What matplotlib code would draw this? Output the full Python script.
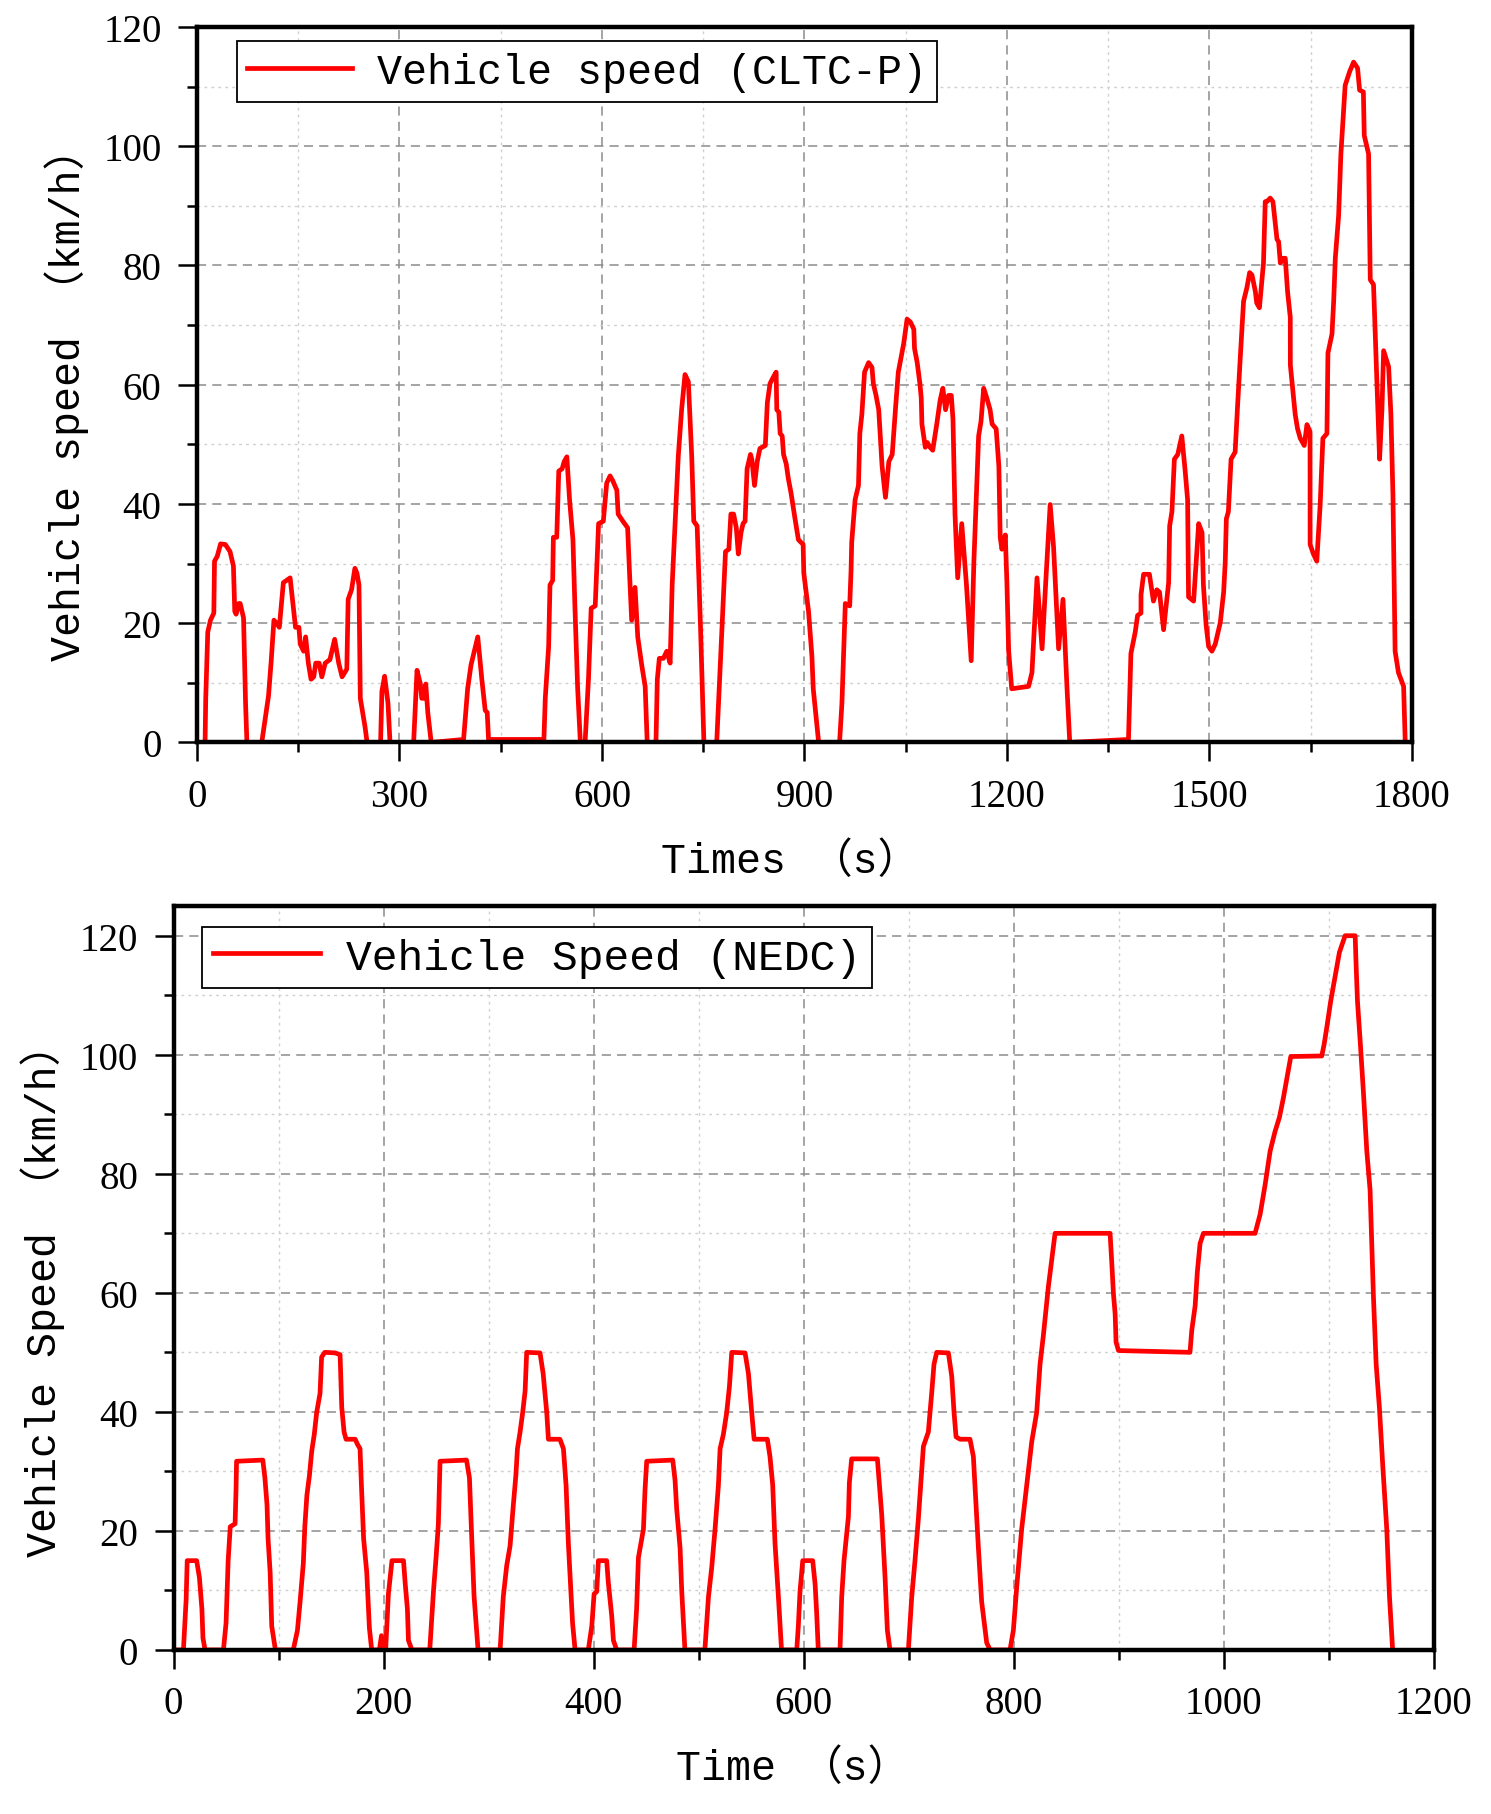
import matplotlib.pyplot as plt
from matplotlib.ticker import MultipleLocator

# CLTC-P speed trace (s, km/h)
cltc_t = [0, 12, 13, 16, 20, 25, 26, 30, 35, 42, 49, 54, 56, 58, 62, 64, 69, 72, 74,
          96, 106, 110, 114, 118, 122, 128, 133, 138, 146, 151, 153, 158, 161, 165, 169,
          173, 176, 181, 185, 190, 197, 204, 210, 215, 222, 224, 229, 234, 237, 240, 242,
          249, 252, 272, 274, 278, 283, 286, 321, 326, 331, 333, 336, 339, 342, 347, 395,
          401, 406, 416, 422, 427, 430, 432, 514, 516, 521, 523, 527, 528, 533, 536, 541,
          544, 548, 552, 557, 560, 564, 568, 575, 580, 584, 590, 595, 602, 607, 612, 616,
          622, 624, 631, 638, 641, 644, 649, 653, 659, 664, 667, 680, 682, 685, 691, 696,
          701, 704, 707, 713, 718, 723, 728, 733, 736, 741, 746, 751, 770, 774, 778, 783,
          788, 791, 795, 799, 802, 806, 809, 812, 815, 820, 822, 826, 830, 834, 842, 845,
          849, 854, 858, 859, 862, 864, 867, 869, 873, 876, 880, 886, 891, 898, 899, 906,
          911, 913, 921, 952, 955.5, 960.5, 967, 969, 970, 975, 980, 982, 985, 989, 995,
          1000, 1002, 1006, 1010, 1015, 1020, 1025, 1030, 1035, 1039, 1047, 1052, 1057,
          1062, 1063, 1067, 1071, 1073, 1074, 1077, 1079, 1082, 1086, 1090, 1096, 1101,
          1105, 1109, 1113.5, 1117.5, 1120, 1123, 1127, 1133, 1140, 1147, 1151, 1158,
          1161.5, 1165.5, 1170, 1175, 1178, 1184, 1188, 1190, 1192.5, 1197.5, 1200, 1202.5,
          1207, 1232, 1237, 1244.5, 1252, 1258, 1264, 1269, 1276.5, 1283, 1289, 1293, 1380,
          1383.6, 1390, 1393.5, 1398.5, 1398.6, 1402.4, 1411, 1417, 1422, 1426, 1432,
          1439.5, 1441, 1444.4, 1448, 1453, 1459, 1464, 1467.6, 1469, 1476.5, 1484, 1489,
          1491, 1495, 1498.7, 1503.6, 1508.6, 1516, 1521, 1523.4, 1525, 1528, 1532, 1538,
          1541.7, 1545.6, 1550.5, 1555.5, 1559.5, 1563, 1568, 1570, 1574, 1580, 1582.6,
          1585, 1590, 1594, 1600, 1602.4, 1605, 1609, 1612.3, 1615.7, 1619.7, 1619.8,
          1623.6, 1627, 1630.5, 1634.5, 1640.4, 1644.4, 1649, 1649.1, 1654, 1659, 1664,
          1668, 1674, 1675.5, 1681.5, 1684, 1686.4, 1691.3, 1694.7, 1701, 1707.6, 1713.5,
          1719.4, 1722.4, 1728, 1729.3, 1735.7, 1738.2, 1743, 1744, 1748, 1752, 1755.5,
          1758, 1765.4, 1768.8, 1771.8, 1775, 1780, 1787.6, 1790, 1800]
cltc_v = [0, 0, 7.4, 18.5, 20.5, 21.7, 30.4, 31.2, 33.3, 33.2, 32, 29.6, 22, 21.5, 23.3,
          23.3, 20.9, 6.6, 0, 0, 7.8, 13.7, 20.5, 20, 19.3, 26.8, 27.2, 27.6, 19.3, 19.3,
          16.5, 15.3, 17.7, 13.3, 10.6, 11, 13.3, 13.3, 11, 13.3, 13.9, 17.3, 13.3, 11,
          12.3, 24, 25.6, 29.2, 28.4, 26.4, 7.4, 2.6, 0, 0, 8.6, 11.1, 6.6, 0, 0, 12.1,
          9.8, 7.4, 7.4, 9.8, 5, 0, 0.5, 9, 13, 17.7, 10.6, 5.4, 5, 0.5, 0.5, 7.4, 16.1,
          26.4, 27.2, 34.4, 34.4, 45.5, 45.9, 47.1, 47.9, 40.7, 34, 22.5, 9, 0, 0, 10.6,
          22.5, 22.9, 36.7, 37.1, 43.5, 44.7, 43.9, 42.3, 38.3, 37.1, 36, 28, 20.5, 26,
          17.7, 12.9, 9.4, 0, 0, 10.6, 14.1, 14.1, 15.3, 13.3, 26.4, 33.6, 47.9, 55.8,
          61.7, 60.5, 47.9, 37.1, 36.3, 19.3, 0, 0, 9.8, 19.3, 32, 32.4, 38.3, 38.3, 36,
          31.6, 35.2, 36.7, 37.1, 45.9, 48.3, 47.5, 43.1, 47.1, 49.3, 49.8, 57, 60.2, 61.3,
          62.1, 55.8, 55.4, 51.8, 51.4, 48.3, 46.7, 44.3, 41.9, 37.5, 34, 33.2, 28.4, 22,
          14.5, 9, 0, 0, 6.6, 23.3, 22.9, 28.8, 33.6, 40.7, 43.1, 51.8, 55, 62.1, 63.7,
          62.9, 60.2, 58.2, 55.8, 46.3, 41.1, 47.1, 48.3, 56.2, 62.1, 66.9, 71, 70.5, 69.3,
          66.1, 63.7, 60.2, 57.8, 53.4, 51, 49.5, 50.3, 49.5, 49, 53.4, 57.4, 59.4, 55.8,
          58.2, 58.2, 54.2, 38.3, 27.6, 36.7, 26.4, 13.7, 30.4, 51.4, 53.8, 59.4, 57.8,
          55.8, 53.4, 52.6, 46.3, 34.4, 32.4, 34.8, 26.4, 15.3, 9, 9.4, 11.7, 27.6, 15.7,
          28, 39.9, 32.8, 15.7, 24, 9, 0, 0.5, 14.9, 18.5, 21.3, 21.7, 24.8, 28.2, 28.2,
          23.7, 25.6, 25.2, 18.9, 26.8, 36.3, 38.7, 47.5, 48.3, 51.4, 45.5, 40.7, 24.4,
          23.7, 36.7, 35.2, 26.4, 19.7, 16.1, 15.3, 16.5, 20.1, 25.2, 30.4, 37.5, 38.7,
          47.5, 48.7, 56.6, 64.5, 74, 76.3, 78.8, 78.4, 75.6, 73.7, 72.9, 80.4, 90.7, 90.7,
          91.3, 90.7, 84.4, 84, 80.4, 81.2, 81.2, 75.6, 71.3, 63.3, 59, 55, 52.6, 51, 49.8,
          53.3, 52.1, 33.2, 31.6, 30.4, 39.9, 51, 51.8, 65.3, 68.5, 74, 81.2, 88.3, 98.7,
          110.2, 112.5, 114.1, 113.1, 109.4, 109.1, 101.8, 98.7, 77.6, 76.8, 73.7, 60.6,
          47.5, 55.8, 65.7, 63, 55, 41.5, 15.3, 11.7, 9.4, 0, 0]

# NEDC speed trace (s, km/h)
nedc_t = [0, 9.4, 12, 13, 22, 24.6, 27, 28, 30, 47.5, 50, 52, 54, 58.6, 59.5, 60, 85, 87,
          89, 90, 92, 93.5, 97, 114, 118, 120.5, 123.6, 125, 127, 129.4, 131.6, 134,
          136.3, 139.5, 141, 144, 154, 158.6, 160.2, 162.4, 164.3, 173, 175, 177.6, 179,
          181, 184, 186.5, 188.7, 196, 198, 200, 202, 204.6, 208, 219, 220.5, 222.7,
          223.7, 227, 244, 247.5, 250, 252.2, 253.8, 279, 281.8, 284, 286.2, 290, 311,
          314, 317.3, 320.5, 323.6, 326, 327.5, 330, 332.5, 334.8, 336.3, 349, 352, 355.4,
          357, 368, 371.3, 373.8, 376, 377.6, 380, 382.4, 395, 398.3, 400.5, 403, 404.6,
          412.5, 414, 417.3, 418.9, 422, 438.6, 441, 442.7, 447.5, 449, 450.6, 475.4,
          477.6, 479.2, 482.4, 484, 487, 506, 509.4, 512.5, 515.7, 518.9, 520.5, 523.6,
          526.8, 529.4, 531.6, 544.3, 547.5, 550.6, 552.9, 565.5, 568, 570.6, 572.8, 576,
          579, 593.5, 595, 596.6, 599.2, 608.7, 611, 612.5, 614, 634.7, 636.3, 638.5,
          642.7, 643.6, 645.8, 670.3, 672.2, 674.4, 677.6, 679.8, 682.3, 699.8, 703,
          706.1, 709.3, 714.1, 718.8, 722, 724.2, 726.8, 737.9, 741.1, 743.3, 745.2, 749,
          758.5, 761.7, 763.3, 766.5, 769.6, 774.4, 777.6, 796.6, 799.8, 803, 807.7,
          813.1, 817.3, 822, 825.2, 828.4, 833.1, 836.3, 839.5, 891.9, 893.5, 895.1,
          896.7, 897.6, 899.9, 968, 969.7, 972.9, 975, 977.6, 980.8, 1030, 1034.8, 1039.5,
          1044.3, 1049, 1053.2, 1057, 1060.2, 1064, 1093.5, 1095.7, 1098.3, 1102, 1106.2,
          1110.3, 1114.1, 1115.7, 1125.3, 1126.2, 1127.5, 1130, 1133.2, 1136.4, 1139.5,
          1142.7, 1145.3, 1148.4, 1151.6, 1155.4, 1158, 1161]
nedc_v = [0, 0, 8.5, 15, 15, 12.2, 6.9, 2, 0, 0, 4.5, 15, 20.7, 21.2, 26.9, 31.7, 31.9,
          28.9, 24.4, 18.7, 13, 4, 0, 0, 3.3, 8.1, 14.6, 20.7, 26, 29.3, 33.4, 36.2, 39.9,
          43.1, 49.2, 50, 49.9, 49.6, 40.7, 36.6, 35.4, 35.4, 34.6, 33.8, 27.3, 18.7, 13,
          3.7, 0, 0, 2.4, 0, 0, 9.4, 15, 15, 11.4, 6.9, 1.6, 0, 0, 9.8, 15.5, 21.2, 31.7,
          31.9, 28.9, 18.7, 9, 0, 0, 8.9, 14.2, 17.5, 24.4, 29.3, 33.8, 36.6, 39.9, 43.5,
          50, 49.9, 46.4, 39.9, 35.4, 35.4, 33.8, 27.7, 17.9, 12.6, 4.5, 0, 0, 4, 9.4, 9.8,
          15, 15, 11.4, 5.7, 1.6, 0, 0, 6.9, 15.5, 20.3, 26.9, 31.7, 31.9, 28.5, 23.6,
          17.1, 9.8, 0, 0, 8.9, 13.8, 20.3, 27.7, 33.8, 36.2, 39.9, 44.3, 50, 49.9, 46.4,
          39.9, 35.4, 35.4, 32.5, 27.7, 17.9, 9, 0, 0, 4, 9.8, 15, 15, 11, 6.1, 0, 0, 8.9,
          15, 22.4, 28.1, 32.1, 32.1, 27.7, 22.8, 12.2, 3.3, 0, 0, 8.9, 15, 22, 34.2, 36.6,
          43.1, 48, 50, 49.9, 46, 39.9, 35.8, 35.4, 35.4, 32.5, 27.3, 17.1, 8.1, 1.2, 0, 0,
          3.3, 10.6, 20.3, 28.5, 35, 39.9, 48, 52.9, 61, 65.5, 70, 70, 65.1, 59.8, 56.5,
          51.7, 50.3, 50, 53.7, 57.8, 63.5, 68.3, 70, 70, 73.2, 78.1, 83.8, 87.1, 89.5,
          92.8, 96, 99.7, 99.8, 101.7, 104.6, 109, 113.1, 117.2, 119.2, 120, 120, 115.1,
          109, 102.5, 93.6, 83.8, 77.3, 59.4, 48, 40.7, 30.9, 20.3, 8.9, 0]

label_font = ['Liberation Mono', 'Noto Sans CJK SC']
tick_font = 'Liberation Serif'

fig = plt.figure(figsize=(14.91, 18.15), dpi=100)
ax1 = fig.add_axes([0.1321, 0.5904, 0.8149, 0.3942])
ax2 = fig.add_axes([0.1164, 0.0904, 0.8451, 0.4099])


def style_axes(ax, xmax, xmajor, ymax):
    ax.set_xlim(0, xmax)
    ax.set_ylim(0, ymax)
    ax.xaxis.set_major_locator(MultipleLocator(xmajor))
    ax.xaxis.set_minor_locator(MultipleLocator(xmajor / 2))
    ax.yaxis.set_major_locator(MultipleLocator(20))
    ax.yaxis.set_minor_locator(MultipleLocator(10))
    ax.grid(which='major', color='#8c8c8c', linestyle=(0, (6, 4)), linewidth=1.1)
    ax.grid(which='minor', color='#d0d0d0', linestyle=(0, (2, 3)), linewidth=1.0)
    ax.set_axisbelow(True)
    for s in ax.spines.values():
        s.set_linewidth(3.2)
    ax.tick_params(which='major', direction='out', length=13.5, width=1.8,
                   labelsize=28, pad=12)
    ax.tick_params(which='minor', direction='out', length=7, width=1.8)
    for lab in ax.get_xticklabels() + ax.get_yticklabels():
        lab.set_fontfamily(tick_font)


# top: CLTC-P
ax1.plot(cltc_t, cltc_v, color='red', lw=3.4, label='Vehicle speed (CLTC-P)')
style_axes(ax1, 1800, 300, 120)
ax1.set_xlabel('Times （s）', fontsize=30, family=label_font)
ax1.set_ylabel('Vehicle speed （km/h）', fontsize=30, family=label_font)
ax1.xaxis.set_label_coords(0.488, -0.166)
ax1.xaxis.label.set_va('center')
ax1.yaxis.set_label_coords(-0.107, 0.488)
ax1.yaxis.label.set_va('center')
leg1 = ax1.legend(loc='upper left', bbox_to_anchor=(0.033, 0.98), borderaxespad=0,
                  prop={'family': label_font, 'size': 30}, handlelength=2.5,
                  handletextpad=0.6, borderpad=0.25, fancybox=False, framealpha=1)
leg1.get_frame().set_edgecolor('black')
leg1.get_frame().set_linewidth(1.3)

# bottom: NEDC
ax2.plot(nedc_t, nedc_v, color='red', lw=3.4, label='Vehicle Speed (NEDC)')
style_axes(ax2, 1200, 200, 125)
ax2.set_xlabel('Time （s）', fontsize=30, family=label_font)
ax2.set_ylabel('Vehicle Speed （km/h）', fontsize=30, family=label_font)
ax2.xaxis.set_label_coords(0.4917, -0.1586)
ax2.xaxis.label.set_va('center')
ax2.yaxis.set_label_coords(-0.1036, 0.484)
ax2.yaxis.label.set_va('center')
leg2 = ax2.legend(loc='upper left', bbox_to_anchor=(0.0226, 0.972), borderaxespad=0,
                  prop={'family': label_font, 'size': 31}, handlelength=2.5,
                  handletextpad=0.6, borderpad=0.25, fancybox=False, framealpha=1)
leg2.get_frame().set_edgecolor('black')
leg2.get_frame().set_linewidth(1.3)

fig.savefig('out.png', dpi=100)
